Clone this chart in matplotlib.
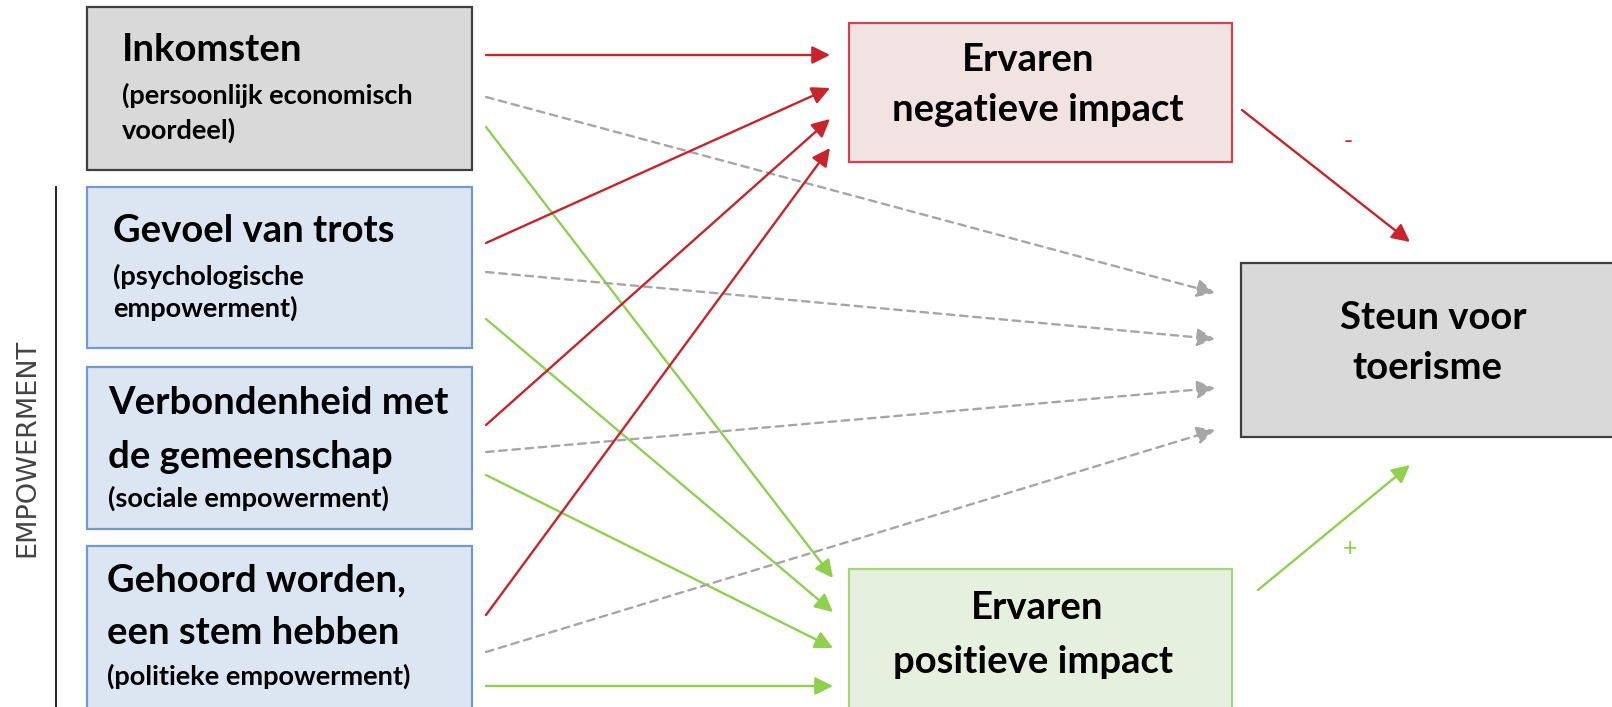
import matplotlib.pyplot as plt
from matplotlib.patches import Rectangle, FancyArrowPatch

# ---- diagram content ----
source_titles = [["Inkomsten"],
                 ["Gevoel van trots"],
                 ["Verbondenheid met", "de gemeenschap"],
                 ["Gehoord worden,", "een stem hebben"]]
source_notes = [["(persoonlijk economisch", "voordeel)"],
                ["(psychologische", "empowerment)"],
                ["(sociale empowerment)"],
                ["(politieke empowerment)"]]
source_kind = ["base", "empower", "empower", "empower"]
mediator_titles = [["Ervaren", "negatieve impact"],
                   ["Ervaren", "positieve impact"]]
outcome_title = ["Steun voor", "toerisme"]
group_label = "EMPOWERMENT"
mediator_signs = ["-", "+"]

# every source feeds both mediators and (dashed, direct) the outcome
edge_targets = ["neg", "pos", "out"]

# ---- layout (pixel space of the 1612x707 canvas) ----
W, H = 1612, 707
SRC_X0, SRC_X1 = 87, 472
src_top = [7, 187, 367, 546]
src_bot = [170, 348, 529, 712]
title_x = [122, 113, 108, 107]
title_y = [[50], [231], [403, 457], [580, 633]]
note_y = [[95, 130], [276, 308], [498], [676]]
# arrow ports leaving each source box: neg / out / pos
port_out = [(55, 97, 127), (243, 272, 319), (425, 452, 475), (615, 652, 686)]
port_in = {"neg": (830, [55, 88, 119, 148]),
           "pos": (833, [578, 612, 648, 686]),
           "out": (1215, [293, 339, 388, 430])}
med_box = [(849, 23, 1232, 162), (849, 569, 1232, 712)]
med_text = [[(1028, 60), (1038, 110)], [(1037, 608), (1033, 662)]]
out_box = (1241, 263, 1620, 437)
out_text = [(1433, 318), (1427, 368)]
med_arrow = [((1242, 110), (1410, 242)), ((1258, 590), (1410, 465))]
sign_pos = [(1348, 141), (1350, 549)]

RED, GREEN, GREY = "#c9232b", "#8fd14f", "#a6a6a6"
styles = {
    "neg": dict(color=RED, ls="-"),
    "pos": dict(color=GREEN, ls="-"),
    "out": dict(color=GREY, ls=(0, (3.2, 2.4))),
}
box_styles = {
    "base": dict(fc="#d9d9d9", ec="#3f3f3f"),
    "empower": dict(fc="#dce6f2", ec="#7399d2"),
    "neg": dict(fc="#f2e3e3", ec="#d0454a"),
    "pos": dict(fc="#e6f0df", ec="#a5d67c"),
}
FONT = ["Lato", "DejaVu Sans"]
TITLE_FS, NOTE_FS = 27.5, 19.5


def box(ax, x0, y0, x1, y1, fc, ec):
    ax.add_patch(Rectangle((x0, y0), x1 - x0, y1 - y0, fc=fc, ec=ec, lw=1.6))


def arrow(ax, p0, p1, color, ls="-"):
    ax.add_patch(FancyArrowPatch(p0, p1, arrowstyle="-|>,head_length=0.6,head_width=0.3",
                                 mutation_scale=18, color=color, lw=1.7, ls=ls,
                                 shrinkA=0, shrinkB=0))


fig = plt.figure(figsize=(W / 100, H / 100), dpi=100)
ax = fig.add_axes([0, 0, 1, 1])
ax.set_xlim(0, W)
ax.set_ylim(H, 0)
ax.axis("off")

# source boxes
for i in range(len(source_titles)):
    box(ax, SRC_X0, src_top[i], SRC_X1, src_bot[i], **box_styles[source_kind[i]])
    for line, y in zip(source_titles[i], title_y[i]):
        ax.text(title_x[i], y, line, fontsize=TITLE_FS, fontweight="bold",
                family=FONT, ha="left", va="center")
    for line, y in zip(source_notes[i], note_y[i]):
        ax.text(title_x[i], y, line, fontsize=NOTE_FS, fontweight="bold",
                family=FONT, ha="left", va="center")

# mediators and outcome
for j, kind in enumerate(["neg", "pos"]):
    box(ax, *med_box[j], **box_styles[kind])
    for line, (x, y) in zip(mediator_titles[j], med_text[j]):
        ax.text(x, y, line, fontsize=TITLE_FS, fontweight="bold", family=FONT,
                ha="center", va="center")
box(ax, *out_box, **box_styles["base"])
for line, (x, y) in zip(outcome_title, out_text):
    ax.text(x, y, line, fontsize=TITLE_FS, fontweight="bold", family=FONT,
            ha="center", va="center")

# source -> mediator / outcome arrows
order = {"neg": 0, "out": 1, "pos": 2}
for i in range(len(source_titles)):
    for tgt in edge_targets:
        tx, tys = port_in[tgt]
        p0 = (486, port_out[i][order[tgt]])
        arrow(ax, p0, (tx, tys[i]), **styles[tgt])

# mediator -> outcome
for j, kind in enumerate(["neg", "pos"]):
    arrow(ax, *med_arrow[j], color=styles[kind]["color"])
    ax.text(*sign_pos[j], mediator_signs[j], color=styles[kind]["color"],
            fontsize=18, family=FONT, ha="center", va="center")

# empowerment bracket
ax.plot([56, 56], [187, H], color="#222222", lw=1.4)
ax.text(27, 448, group_label, rotation=90, fontsize=19.5, color="#444444",
        family=["Liberation Sans Narrow", "DejaVu Sans"], ha="center", va="center")

fig.savefig("out.png", dpi=100)
